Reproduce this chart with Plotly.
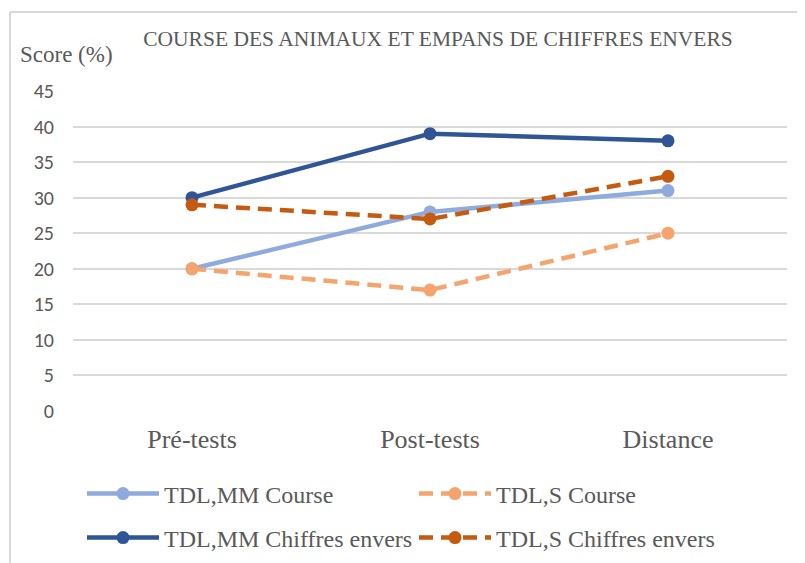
import plotly.graph_objects as go

categories = ["Pré-tests", "Post-tests", "Distance"]
mm_course = [20, 28, 31]
s_course = [20, 17, 25]
mm_chiffres = [30, 39, 38]
s_chiffres = [29, 27, 33]
y_ticks = [0, 5, 10, 15, 20, 25, 30, 35, 40, 45]

OFF = 8  # page body margin
W, H = 805, 563
L, R = 73 - OFF, 787 - OFF
T, B = 91 - OFF, 411 - OFF
TXT = "#595959"
SERIF = "Liberation Serif, Times New Roman, serif"

def px_x(px):
    return (px - OFF - L) / (R - L)

def px_y(py):
    return (B - (py - OFF)) / (B - T)

fig = go.Figure()
series = [
    ("TDL,MM Course", mm_course, "#8FAADC", "solid", "legend", 88, 494),
    ("TDL,S Course", s_course, "#F4A46C", "14px,8px", "legend2", 420, 494),
    ("TDL,MM Chiffres envers", mm_chiffres, "#2F5597", "solid", "legend3", 88, 538),
    ("TDL,S Chiffres envers", s_chiffres, "#C55A11", "14px,8px", "legend4", 420, 538),
]
legends = {}
for name, vals, col, dash, lg, lx, ly in series:
    fig.add_trace(go.Scatter(
        x=categories, y=vals, name=name, mode="lines+markers",
        line=dict(color=col, width=4.5, dash=dash),
        marker=dict(color=col, size=13),
        legend=lg,
    ))
    legends[lg] = dict(
        orientation="h", xref="container", yref="container",
        x=(lx - 6 - OFF) / W, y=1 - (ly - OFF) / H,
        xanchor="left", yanchor="middle", itemwidth=72,
        font=dict(family=SERIF, size=24, color=TXT),
        bgcolor="rgba(0,0,0,0)", itemclick=False,
    )

fig.update_layout(
    width=W, height=H,
    margin=dict(l=L, r=W - R, t=T, b=H - B, autoexpand=False),
    paper_bgcolor="white", plot_bgcolor="white",
    title=dict(text="COURSE DES ANIMAUX ET EMPANS DE CHIFFRES ENVERS",
               x=(438 - OFF) / W, xref="container", xanchor="center",
               y=1 - (38 - OFF) / H, yref="container", yanchor="middle",
               font=dict(family=SERIF, size=21.5, color=TXT)),
    xaxis=dict(type="category", range=[-0.5, 2.5], showgrid=False,
               showline=False, ticks="",
               tickfont=dict(family=SERIF, size=26, color=TXT),
               ticklabelstandoff=10, zeroline=False, fixedrange=True),
    yaxis=dict(range=[0, 45], tickvals=y_ticks, showgrid=True,
               gridcolor="#D9D9D9", gridwidth=1.5, zeroline=False,
               showline=False, ticks="",
               tickfont=dict(family="Carlito, Liberation Sans, Arial, sans-serif", size=20, color=TXT),
               ticklabelstandoff=18, fixedrange=True),
    showlegend=True,
    **legends,
)

fig.add_annotation(text="Score (%)", xref="paper", yref="paper",
                   x=px_x(18), y=px_y(55), xanchor="left", yanchor="middle",
                   showarrow=False, font=dict(family=SERIF, size=23, color=TXT))

# chart frame (left and top edges visible)
fig.add_shape(type="line", xref="paper", yref="paper",
              x0=px_x(10), x1=px_x(10), y0=px_y(12), y1=px_y(620),
              line=dict(color="#D9D9D9", width=2))
fig.add_shape(type="line", xref="paper", yref="paper",
              x0=px_x(10), x1=px_x(900), y0=px_y(12), y1=px_y(12),
              line=dict(color="#D9D9D9", width=2))

fig.write_html("out.html")
